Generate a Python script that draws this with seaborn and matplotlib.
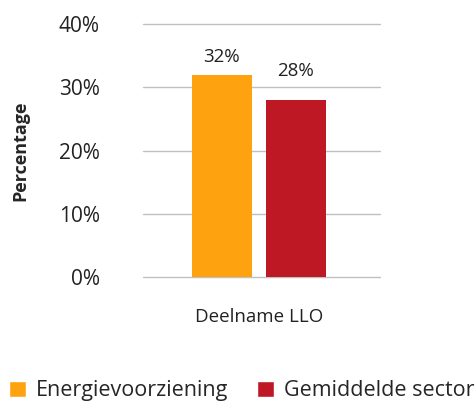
import matplotlib.pyplot as plt
import seaborn as sns
import pandas as pd
from matplotlib.patches import Patch

# Data
category = ['Deelname LLO']
series = ['Energievoorziening', 'Gemiddelde sector']
values = [32, 28]
colors = ['#FFA20F', '#BE1824']

df = pd.DataFrame({'cat': category * len(series), 'series': series, 'value': values})

sns.set_style('white')
plt.rcParams['font.family'] = ['Open Sans', 'DejaVu Sans']

fig = plt.figure(figsize=(4.75, 4.03), dpi=100)
ax = fig.add_axes([0.301, 0.3127, 0.499, 0.6277])

sns.barplot(data=df, x='cat', y='value', hue='series', palette=colors,
            width=0.624, gap=0.19, legend=False, ax=ax, saturation=1, linewidth=0)

# label offsets differ slightly in the reference
for c, pad in zip(ax.containers, [6, 14]):
    ax.bar_label(c, labels=[f'{v:.0f}%' for v in c.datavalues],
                 padding=pad, fontsize=13.5, color='#222222')

ax.set_ylim(0, 40)
ax.set_xlim(-0.488, 0.512)
ax.set_yticks([0, 10, 20, 30, 40])
ax.set_yticklabels([f'{t}%' for t in [0, 10, 20, 30, 40]], fontsize=15, color='#222222')
ax.tick_params(axis='y', length=0, pad=31)
ax.tick_params(axis='x', length=0, pad=22, labelsize=13.5, labelcolor='#222222')
ax.yaxis.grid(True, color='#c0c0c0', linewidth=1)
for gl in ax.get_ygridlines():
    gl.set_clip_on(False)
ax.set_axisbelow(True)
sns.despine(ax=ax, left=True, bottom=True)
ax.set_xlabel('')
ax.set_ylabel('Percentage', fontsize=13, fontweight='bold', labelpad=21)

handles = [Patch(facecolor=col, label=s) for col, s in zip(colors, series)]
fig.legend(handles=handles, loc='center left', bbox_to_anchor=(0.009, 0.03), ncol=2,
           frameon=False, fontsize=15.5, handlelength=0.79, handleheight=0.79,
           handletextpad=0.5, columnspacing=1.3, borderaxespad=0, borderpad=0.2)

fig.savefig('out.png', dpi=100)
